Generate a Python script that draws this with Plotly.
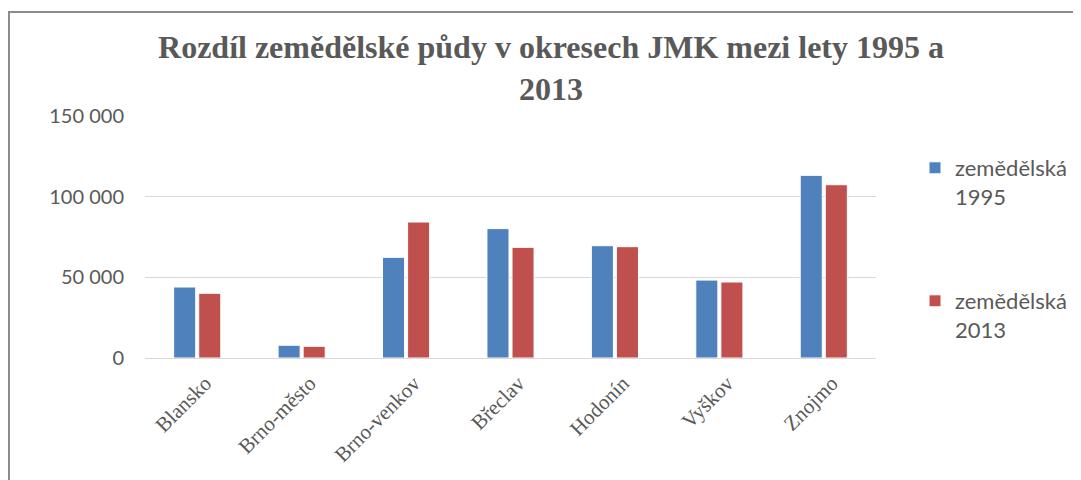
import plotly.graph_objects as go

districts = ["Blansko", "Brno-město", "Brno-venkov", "Břeclav", "Hodonín", "Vyškov", "Znojmo"]
values_1995 = [44000, 7900, 62400, 80200, 69600, 48300, 113200]
values_2013 = [40100, 7250, 84300, 68600, 69000, 47100, 107400]
series_names = ["zemědělská<br>1995", "zemědělská<br>2013"]
y_ticks = [0, 50000, 100000, 150000]
title_text = "Rozdíl zemědělské půdy v okresech JMK mezi lety 1995 a<br>2013"

W, H = 1081, 480
OFF = 8  # page body margin
L, R, T, B = 145 - OFF, 205 + OFF, 116 - OFF, 122 + OFF
pw, ph = W - L - R, H - T - B


def px_x(p):
    return (p - L) / pw


def px_y(p):
    return (H - B - p) / ph


grey = "#595959"
sans = "Lato, 'Open Sans', sans-serif"
serif = "'Liberation Serif', 'Times New Roman', serif"

fig = go.Figure()
fig.add_trace(go.Bar(x=districts, y=values_1995, name=series_names[0],
                     marker=dict(color="#4F81BD", line=dict(color="white", width=1)),
                     legend="legend"))
fig.add_trace(go.Bar(x=districts, y=values_2013, name=series_names[1],
                     marker=dict(color="#C0504D", line=dict(color="white", width=1)),
                     legend="legend2"))

legend_common = dict(xref="container", yref="container", xanchor="left", yanchor="top",
                     valign="top", font=dict(family=sans, size=22, color=grey),
                     bgcolor="rgba(0,0,0,0)")

fig.update_layout(
    width=W, height=H,
    margin=dict(l=L, r=R, t=T, b=B, autoexpand=False),
    paper_bgcolor="white", plot_bgcolor="white",
    separators=", ",
    showlegend=True,
    barmode="group", bargap=0.52, bargroupgap=0.12,
    title=dict(text=title_text, x=(551 - OFF) / W, xanchor="center", xref="container",
               y=1 - 50 / H, yanchor="top", yref="container",
               font=dict(family=serif, size=32, color=grey, weight="bold")),
    xaxis=dict(showgrid=False, showline=False, ticks="", tickangle=-45,
               ticklabelstandoff=8, ticklabelshift=8,
               tickfont=dict(family=serif, size=21, color=grey)),
    yaxis=dict(range=[0, 150000], tickvals=y_ticks, tickformat=",d",
               showgrid=True, gridcolor="#d9d9d9", gridwidth=1,
               zeroline=True, zerolinecolor="#d9d9d9", zerolinewidth=1,
               showline=False, ticks="", ticklabelstandoff=20,
               tickfont=dict(family=sans, size=20, color=grey)),
    legend=dict(x=(915 - OFF) / W, y=1 - (147 - OFF) / H, **legend_common),
    legend2=dict(x=(915 - OFF) / W, y=1 - (280 - OFF) / H, **legend_common),
    shapes=[dict(type="rect", xref="paper", yref="paper",
                 x0=px_x(8 - OFF + 1), x1=px_x(1100), y0=px_y(500), y1=px_y(11 - OFF + 1),
                 line=dict(color="#8c8c8c", width=2), fillcolor="rgba(0,0,0,0)",
                 layer="below")],
)

fig.write_html("out.html")
